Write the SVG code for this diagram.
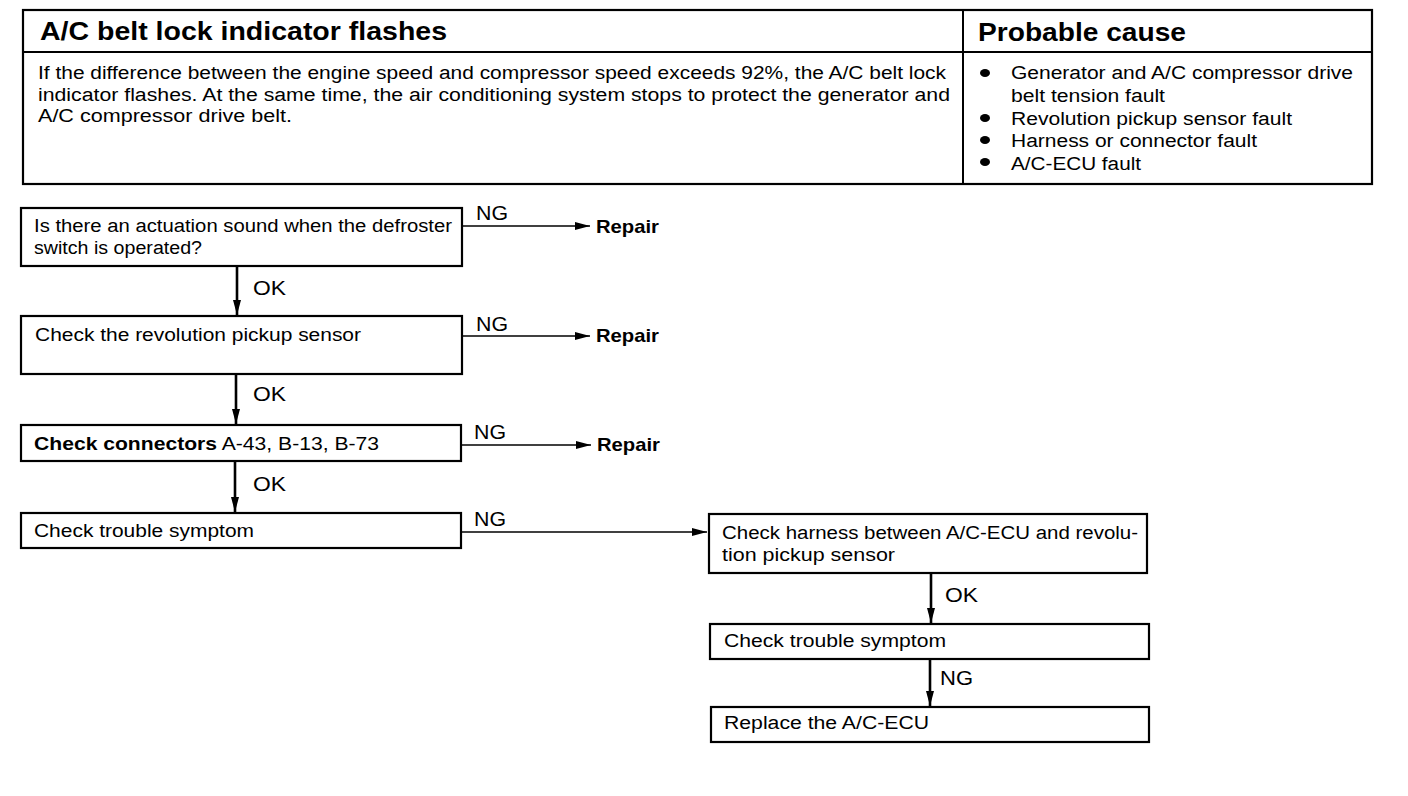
<svg xmlns="http://www.w3.org/2000/svg" width="1408" height="796" viewBox="0 0 1408 796">
<defs>
<marker id="ah" markerWidth="16" markerHeight="10" refX="15" refY="5" orient="auto" markerUnits="userSpaceOnUse">
<path d="M0,1 L15,5 L0,9 Z" fill="#000"/>
</marker>
</defs>
<style>
.t{font-family:"Liberation Sans",Arial,sans-serif;font-size:18px;fill:#000}
.lb{font-family:"Liberation Sans",Arial,sans-serif;font-size:21px;fill:#000}
.rp{font-family:"Liberation Sans",Arial,sans-serif;font-size:19px;font-weight:bold;fill:#000}
.b{font-weight:bold}
.h{font-family:"Liberation Sans",Arial,sans-serif;font-size:25px;font-weight:bold;fill:#000}
.box{fill:#fff;stroke:#000;stroke-width:2.2}
.ln{stroke:#000;stroke-width:2;fill:none}
.cn{stroke:#000;stroke-width:1.6;fill:none;marker-end:url(#ah)}
.cv{stroke:#000;stroke-width:2.6;fill:none;marker-end:url(#ah)}
</style>
<rect width="1408" height="796" fill="#fff"/>
<g id="table">
<rect x="23" y="10" width="1349" height="174" class="box"/>
<line x1="23" y1="52" x2="1372" y2="52" class="ln"/>
<line x1="963" y1="10" x2="963" y2="184" class="ln"/>
<text x="40" y="40" class="h" textLength="407" lengthAdjust="spacingAndGlyphs">A/C belt lock indicator flashes</text>
<text x="978" y="41" class="h" textLength="208" lengthAdjust="spacingAndGlyphs">Probable cause</text>
<text x="38" y="79" class="t" textLength="908" lengthAdjust="spacingAndGlyphs">If the difference between the engine speed and compressor speed exceeds 92%, the A/C belt lock</text>
<text x="38" y="101" class="t" textLength="912" lengthAdjust="spacingAndGlyphs">indicator flashes. At the same time, the air conditioning system stops to protect the generator and</text>
<text x="38" y="122" class="t" textLength="254" lengthAdjust="spacingAndGlyphs">A/C compressor drive belt.</text>
<ellipse cx="985" cy="73" rx="5" ry="4"/>
<ellipse cx="985" cy="118" rx="5" ry="4"/>
<ellipse cx="985" cy="140" rx="5" ry="4"/>
<ellipse cx="985" cy="162" rx="5" ry="4"/>
<text x="1011" y="79" class="t" textLength="342" lengthAdjust="spacingAndGlyphs">Generator and A/C compressor drive</text>
<text x="1011" y="102" class="t" textLength="154" lengthAdjust="spacingAndGlyphs">belt tension fault</text>
<text x="1011" y="125" class="t" textLength="281" lengthAdjust="spacingAndGlyphs">Revolution pickup sensor fault</text>
<text x="1011" y="147" class="t" textLength="246" lengthAdjust="spacingAndGlyphs">Harness or connector fault</text>
<text x="1011" y="170" class="t" textLength="130" lengthAdjust="spacingAndGlyphs">A/C-ECU fault</text>
</g>
<g id="connectors">
<line x1="462" y1="226" x2="590" y2="226" class="cn"/>
<line x1="462" y1="336" x2="590" y2="336" class="cn"/>
<line x1="461" y1="445" x2="591" y2="445" class="cn"/>
<line x1="461" y1="532" x2="707" y2="532" class="cn"/>
<line x1="237" y1="266" x2="237" y2="315" class="cv"/>
<line x1="236" y1="374" x2="236" y2="424" class="cv"/>
<line x1="235" y1="461" x2="235" y2="512" class="cv"/>
<line x1="931" y1="573" x2="931" y2="623" class="cv"/>
<line x1="930" y1="659" x2="930" y2="706" class="cv"/>
<text x="476" y="220" class="lb" textLength="32" lengthAdjust="spacingAndGlyphs">NG</text>
<text x="476" y="331" class="lb" textLength="32" lengthAdjust="spacingAndGlyphs">NG</text>
<text x="474" y="439" class="lb" textLength="32" lengthAdjust="spacingAndGlyphs">NG</text>
<text x="474" y="526" class="lb" textLength="32" lengthAdjust="spacingAndGlyphs">NG</text>
<text x="253" y="295" class="lb" textLength="33" lengthAdjust="spacingAndGlyphs">OK</text>
<text x="253" y="401" class="lb" textLength="33" lengthAdjust="spacingAndGlyphs">OK</text>
<text x="253" y="491" class="lb" textLength="33" lengthAdjust="spacingAndGlyphs">OK</text>
<text x="945" y="602" class="lb" textLength="33" lengthAdjust="spacingAndGlyphs">OK</text>
<text x="940" y="685" class="lb" textLength="33" lengthAdjust="spacingAndGlyphs">NG</text>
<text x="596" y="233" class="rp" textLength="63" lengthAdjust="spacingAndGlyphs">Repair</text>
<text x="596" y="342" class="rp" textLength="63" lengthAdjust="spacingAndGlyphs">Repair</text>
<text x="597" y="451" class="rp" textLength="63" lengthAdjust="spacingAndGlyphs">Repair</text>
</g>
<g id="n1">
<rect x="21" y="208" width="441" height="58" class="box"/>
<text x="34" y="232" class="t" textLength="418" lengthAdjust="spacingAndGlyphs">Is there an actuation sound when the defroster</text>
<text x="34" y="254" class="t" textLength="168" lengthAdjust="spacingAndGlyphs">switch  is  operated?</text>
</g>
<g id="n2">
<rect x="21" y="316" width="441" height="58" class="box"/>
<text x="35" y="341" class="t" textLength="326" lengthAdjust="spacingAndGlyphs">Check the revolution pickup sensor</text>
</g>
<g id="n3">
<rect x="21" y="425" width="440" height="36" class="box"/>
<text x="34" y="450" class="t" textLength="345" lengthAdjust="spacingAndGlyphs"><tspan class="b">Check connectors</tspan> A-43, B-13, B-73</text>
</g>
<g id="n4">
<rect x="21" y="513" width="440" height="35" class="box"/>
<text x="34" y="537" class="t" textLength="220" lengthAdjust="spacingAndGlyphs">Check trouble symptom</text>
</g>
<g id="n5">
<rect x="709" y="514" width="438" height="59" class="box"/>
<text x="722" y="539" class="t" textLength="416" lengthAdjust="spacingAndGlyphs">Check harness between A/C-ECU and revolu-</text>
<text x="722" y="561" class="t" textLength="173" lengthAdjust="spacingAndGlyphs">tion  pickup  sensor</text>
</g>
<g id="n6">
<rect x="710" y="624" width="439" height="35" class="box"/>
<text x="724" y="647" class="t" textLength="222" lengthAdjust="spacingAndGlyphs">Check  trouble  symptom</text>
</g>
<g id="n7">
<rect x="711" y="707" width="438" height="35" class="box"/>
<text x="724" y="729" class="t" textLength="205" lengthAdjust="spacingAndGlyphs">Replace  the  A/C-ECU</text>
</g>
</svg>
